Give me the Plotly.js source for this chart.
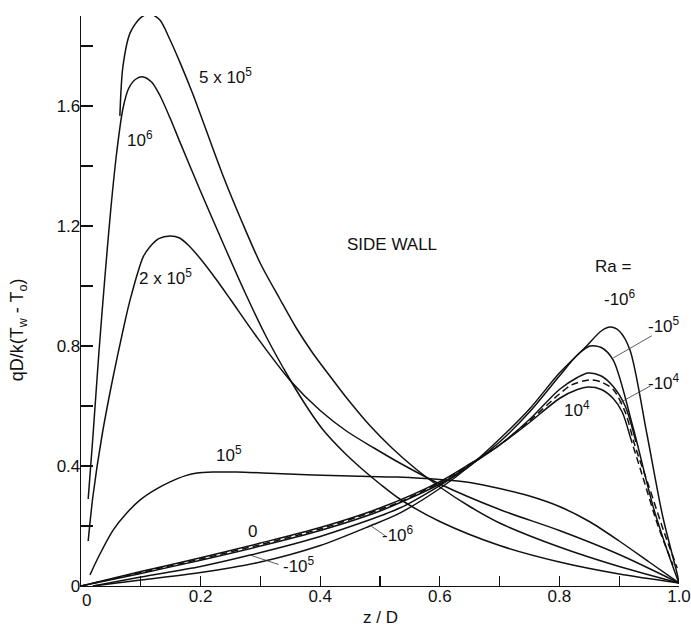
<!DOCTYPE html>
<html>
<head>
<meta charset="utf-8">
<script src="https://cdn.plot.ly/plotly-3.0.1.min.js"></script>
<style>html,body{margin:0;padding:0;background:#fff;}#chart{width:691px;height:628px;}</style>
</head>
<body>
<div id="chart"></div>
<script>
// ---- Data (z/D vs qD/k(Tw-To)) ----
const ra5e5_x = [0.065, 0.07, 0.082, 0.099, 0.115, 0.132, 0.149, 0.166, 0.187, 0.237, 0.27, 0.3, 0.333, 0.36, 0.388, 0.42, 0.445, 0.483, 0.52, 0.56, 0.6, 0.65, 0.7, 0.8, 0.9, 1.0];
const ra5e5_y = [1.567, 1.73, 1.843, 1.893, 1.907, 1.887, 1.82, 1.743, 1.64, 1.37, 1.21, 1.075, 0.955, 0.86, 0.775, 0.69, 0.625, 0.535, 0.46, 0.39, 0.33, 0.265, 0.21, 0.13, 0.065, 0.01];

const ra1e6_x = [0.012, 0.02, 0.03, 0.04, 0.05, 0.06, 0.07, 0.08, 0.092, 0.104, 0.118, 0.132, 0.15, 0.166, 0.199, 0.237, 0.275, 0.31, 0.349, 0.38, 0.405, 0.44, 0.47, 0.5, 0.533, 0.6, 0.7, 0.8, 0.9, 1.0];
const ra1e6_y = [0.29, 0.5, 0.78, 1.03, 1.26, 1.45, 1.59, 1.66, 1.69, 1.697, 1.68, 1.635, 1.555, 1.477, 1.32, 1.145, 0.975, 0.83, 0.69, 0.59, 0.52, 0.445, 0.39, 0.34, 0.29, 0.215, 0.135, 0.08, 0.04, 0.01];

const ra2e5_x = [0.012, 0.02, 0.035, 0.053, 0.07, 0.082, 0.104, 0.115, 0.13, 0.149, 0.165, 0.18, 0.2, 0.225, 0.25, 0.294, 0.349, 0.4, 0.445, 0.49, 0.533, 0.6, 0.7, 0.8, 0.9, 1.0];
const ra2e5_y = [0.15, 0.3, 0.5, 0.69, 0.85, 0.953, 1.097, 1.13, 1.158, 1.167, 1.16, 1.135, 1.09, 1.025, 0.955, 0.83, 0.687, 0.585, 0.515, 0.46, 0.41, 0.34, 0.255, 0.185, 0.105, 0.01];

const ra1e5_x = [0.015, 0.03, 0.054, 0.075, 0.099, 0.125, 0.149, 0.175, 0.194, 0.221, 0.26, 0.304, 0.388, 0.45, 0.528, 0.6, 0.65, 0.7, 0.75, 0.8, 0.85, 0.9, 0.95, 1.0];
const ra1e5_y = [0.037, 0.1, 0.187, 0.24, 0.287, 0.322, 0.347, 0.368, 0.377, 0.38, 0.38, 0.377, 0.37, 0.367, 0.363, 0.355, 0.345, 0.325, 0.3, 0.265, 0.215, 0.15, 0.08, 0.01];

const ra0_x = [0.0, 0.1, 0.2, 0.3, 0.4, 0.5, 0.533, 0.6, 0.65, 0.7, 0.75, 0.8, 0.82, 0.85, 0.87, 0.89, 0.91, 0.926, 0.95, 0.975, 0.997];
const ra0_y = [0.0, 0.045, 0.09, 0.138, 0.19, 0.255, 0.28, 0.345, 0.405, 0.47, 0.55, 0.64, 0.67, 0.687, 0.68, 0.655, 0.58, 0.47, 0.33, 0.18, 0.06];

const ra1e4_x = [0.0, 0.1, 0.2, 0.3, 0.4, 0.5, 0.6, 0.65, 0.7, 0.75, 0.8, 0.83, 0.848, 0.87, 0.89, 0.905, 0.918];
const ra1e4_y = [0.0, 0.048, 0.094, 0.143, 0.195, 0.26, 0.348, 0.407, 0.47, 0.545, 0.625, 0.655, 0.663, 0.655, 0.625, 0.58, 0.5];

const ra1e4ext_x = [0.918, 0.94, 0.965, 0.99];
const ra1e4ext_y = [0.5, 0.36, 0.2, 0.07];

const raM1e4_x = [0.0, 0.1, 0.2, 0.3, 0.4, 0.5, 0.6, 0.65, 0.7, 0.75, 0.8, 0.83, 0.848, 0.87, 0.89, 0.91, 0.928];
const raM1e4_y = [0.0, 0.042, 0.086, 0.133, 0.185, 0.25, 0.34, 0.402, 0.47, 0.555, 0.655, 0.695, 0.71, 0.70, 0.665, 0.6, 0.48];

const raM1e5_x = [0.02, 0.1, 0.2, 0.283, 0.4, 0.533, 0.6, 0.65, 0.7, 0.75, 0.8, 0.83, 0.851, 0.87, 0.89, 0.923, 0.957, 0.99, 1.0];
const raM1e5_y = [0.0, 0.03, 0.065, 0.103, 0.165, 0.26, 0.335, 0.4, 0.48, 0.58, 0.7, 0.77, 0.80, 0.795, 0.753, 0.53, 0.263, 0.063, 0.01];

const raM1e6_x = [0.02, 0.1, 0.2, 0.3, 0.4, 0.483, 0.533, 0.6, 0.65, 0.7, 0.75, 0.8, 0.843, 0.87, 0.885, 0.9, 0.918, 0.946, 0.973, 0.997, 1.0];
const raM1e6_y = [0.0, 0.02, 0.045, 0.08, 0.135, 0.2, 0.243, 0.325, 0.4, 0.49, 0.59, 0.71, 0.795, 0.85, 0.863, 0.85, 0.787, 0.51, 0.23, 0.04, 0.01];

const xTickVals = [0, 0.1, 0.2, 0.3, 0.4, 0.5, 0.6, 0.7, 0.8, 0.9, 1.0];
const xTickText = ['', '', '0.2', '', '0.4', '', '0.6', '', '0.8', '', '1.0'];
const xOriginLabel = '0';
const yTickVals = [0, 0.2, 0.4, 0.6, 0.8, 1.0, 1.2, 1.4, 1.6, 1.8];
const yTickText = ['0', '', '0.4', '', '0.8', '', '1.2', '', '1.6', ''];

// ---- Traces ----
function solid(x, y) {
  return {x: x, y: y, mode: 'lines', type: 'scatter', hoverinfo: 'skip',
          line: {color: '#111', width: 1.5, shape: 'spline', smoothing: 0.8}};
}
function dashed(x, y) {
  return {x: x, y: y, mode: 'lines', type: 'scatter', hoverinfo: 'skip',
          line: {color: '#111', width: 1.5, dash: '7px,4px', shape: 'spline', smoothing: 0.8}};
}
const data = [
  solid(ra5e5_x, ra5e5_y),
  solid(ra1e6_x, ra1e6_y),
  solid(ra2e5_x, ra2e5_y),
  solid(ra1e5_x, ra1e5_y),
  dashed(ra0_x, ra0_y),
  solid(ra1e4_x, ra1e4_y),
  dashed(ra1e4ext_x, ra1e4ext_y),
  solid(raM1e4_x, raM1e4_y),
  solid(raM1e5_x, raM1e5_y),
  solid(raM1e6_x, raM1e6_y)
];

const F = {family: 'Liberation Sans, Arial, sans-serif', size: 17, color: '#111'};
function lab(x, y, text, extra) {
  return Object.assign({x: x, y: y, xref: 'x', yref: 'y', text: text, showarrow: false, font: F}, extra || {});
}
function leader(x0, y0, x1, y1) {
  // thin leader line from label (x0,y0) to curve (x1,y1)
  return {x: x1, y: y1, ax: x0, ay: y0, xref: 'x', yref: 'y', axref: 'x', ayref: 'y',
          text: '', showarrow: true, arrowhead: 0, arrowwidth: 0.8, arrowcolor: '#333'};
}

const annotations = [
  lab(0.242, 1.70, '5 x 10<sup>5</sup>'),
  lab(0.099, 1.49, '10<sup>6</sup>'),
  lab(0.52, 1.14, 'SIDE WALL'),
  lab(0.142, 1.03, '2 x 10<sup>5</sup>'),
  lab(0.247, 0.44, '10<sup>5</sup>'),
  lab(0.286, 0.183, '0'),
  lab(0.365, 0.07, '-10<sup>5</sup>'),
  lab(0.53, 0.175, '-10<sup>6</sup>'),
  lab(0.89, 1.065, 'Ra ='),
  lab(0.902, 0.96, '-10<sup>6</sup>'),
  lab(0.975, 0.87, '-10<sup>5</sup>'),
  lab(0.975, 0.68, '-10<sup>4</sup>'),
  lab(0.829, 0.59, '10<sup>4</sup>'),
  leader(0.333, 0.07, 0.283, 0.103),
  leader(0.512, 0.163, 0.483, 0.203),
  leader(0.957, 0.837, 0.89, 0.76),
  leader(0.955, 0.67, 0.9, 0.61),
  {x: 0.009, y: -0.026, xref: 'x', yref: 'paper', xanchor: 'center', yanchor: 'middle',
   text: xOriginLabel, showarrow: false, font: F},
  {x: -0.105, y: 0.449, xref: 'paper', yref: 'paper', xanchor: 'center', yanchor: 'middle',
   text: 'qD/k(T<sub>w</sub> - T<sub>o</sub>)',
   textangle: -90, showarrow: false, font: {family: F.family, size: 18, color: '#111'}},
  {x: 0.5, y: -0.056, xref: 'paper', yref: 'paper', xanchor: 'center', yanchor: 'middle',
   text: 'z / D', showarrow: false, font: F}
];

const layout = {
  width: 691, height: 628,
  margin: {l: 81, r: 12, t: 16, b: 42},
  paper_bgcolor: '#fff', plot_bgcolor: '#fff',
  showlegend: false,
  font: F,
  xaxis: {range: [0, 1.0], showgrid: false, zeroline: false, showline: true, linecolor: '#111', linewidth: 1.3,
          ticks: 'inside', ticklen: 10, tickwidth: 1.2, tickcolor: '#111', ticklabelstandoff: -6,
          tickvals: xTickVals, ticktext: xTickText, tickfont: F, automargin: false},
  yaxis: {range: [0, 1.9], showgrid: false, zeroline: false, showline: true, linecolor: '#111', linewidth: 1.3,
          ticks: 'inside', ticklen: 12, tickwidth: 1.2, tickcolor: '#111', ticklabelstandoff: -4,
          tickvals: yTickVals, ticktext: yTickText, tickfont: F, automargin: false},
  annotations: annotations
};

Plotly.newPlot('chart', data, layout, {staticPlot: true, displayModeBar: false});
</script>
</body>
</html>
